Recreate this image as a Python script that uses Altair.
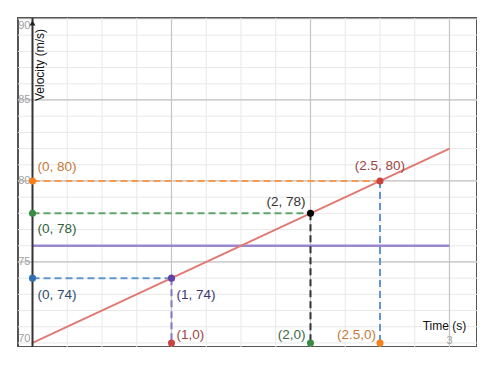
import altair as alt
import pandas as pd

# ---- data ----
line_t = [0, 3]
line_v = [70, 82]
level_v = 76
level_t = [0, 3]

# dashed horizontal guides (from t=0 to the point)
h_end_t = [2.5, 2, 1]
h_v = [80, 78, 74]
h_col = ["#f59a52", "#5fa46b", "#6396cf"]

# dashed vertical guides (from the point down to 70)
v_t = [1, 2, 2.5]
v_top = [74, 78, 80]
v_col = ["#8874c4", "#333333", "#6396cf"]
v_bottom = 70

pt_t = [0, 0, 0, 1, 2, 2.5, 1, 2, 2.5]
pt_v = [80, 78, 74, 74, 78, 80, 70, 70, 70]
pt_col = ["#fa7e19", "#388c46", "#2d70b3", "#6042a6", "#000000", "#c74440",
          "#c74440", "#388c46", "#fa7e19"]

labels = ["(0, 80)", "(0, 78)", "(0, 74)", "(1, 74)", "(2, 78)", "(2.5, 80)",
          "(1,0)", "(2,0)", "(2.5,0)"]
label_col = ["#c47a3c", "#2f5f3a", "#2f4a70", "#3d3474", "#333333", "#9a4744",
             "#9a4744", "#3a6a44", "#c47a3c"]

minor_x = [i * 0.25 for i in range(-1, 13)]
major_x = [1, 2, 3]
minor_y = list(range(70, 91))
major_y = [75, 80, 85]
y_ticks = [90, 85, 80, 75, 70]
x_tick = [3]

xs = alt.Scale(domain=[-0.1043, 3.198], nice=False, zero=False)
ys = alt.Scale(domain=[69.75, 90.06], nice=False, zero=False)
X = lambda f: alt.X(f, scale=xs, axis=None)
Y = lambda f: alt.Y(f, scale=ys, axis=None)

def vgrid(vals, color, w):
    return alt.Chart(pd.DataFrame({"t": vals})).mark_rule(color=color, strokeWidth=w).encode(x=X("t:Q"))

def hgrid(vals, color, w):
    return alt.Chart(pd.DataFrame({"v": vals})).mark_rule(color=color, strokeWidth=w).encode(y=Y("v:Q"))

layers = [
    vgrid(minor_x, "#e8e8e8", 1), hgrid(minor_y, "#e8e8e8", 1),
    vgrid(major_x, "#c4c4c4", 1.2), hgrid(major_y, "#c4c4c4", 1.2),
]

# tick labels
ytl = pd.DataFrame({"t": [0] * len(y_ticks), "v": y_ticks, "s": [str(v) for v in y_ticks]})
for v, dy in [(90, 7), (85, 0), (80, 0), (75, 0), (70, -4)]:
    layers.append(alt.Chart(ytl[ytl.v == v]).mark_text(
        align="right", baseline="middle", dx=-2, dy=dy, fontSize=11,
        font="Liberation Sans", color="#a0a0a0").encode(x=X("t:Q"), y=Y("v:Q"), text="s:N"))
layers.append(alt.Chart(pd.DataFrame({"t": x_tick, "v": [70], "s": ["3"]})).mark_text(
    align="center", baseline="middle", dy=-2, fontSize=11, font="Liberation Sans",
    color="#a0a0a0").encode(x=X("t:Q"), y=Y("v:Q"), text="s:N"))

# purple level line
layers.append(alt.Chart(pd.DataFrame({"t": level_t, "v": [level_v] * 2})).mark_line(
    color="#9a88cf", strokeWidth=2.5).encode(x=X("t:Q"), y=Y("v:Q")))

# dashed guides
hd = pd.DataFrame({"t": [0] * 3, "t2": h_end_t, "v": h_v, "c": h_col})
layers.append(alt.Chart(hd).mark_rule(strokeWidth=2, strokeDash=[7, 4]).encode(
    x=X("t:Q"), x2="t2:Q", y=Y("v:Q"), color=alt.Color("c:N", scale=None)))
vd = pd.DataFrame({"t": v_t, "v": v_top, "v2": [v_bottom] * 3, "c": v_col})
layers.append(alt.Chart(vd).mark_rule(strokeWidth=2, strokeDash=[7, 4]).encode(
    x=X("t:Q"), y=Y("v:Q"), y2="v2:Q", color=alt.Color("c:N", scale=None)))

# red velocity line
layers.append(alt.Chart(pd.DataFrame({"t": line_t, "v": line_v})).mark_line(
    color="#e07a73", strokeWidth=2).encode(x=X("t:Q"), y=Y("v:Q")))

# y axis with arrow
layers.append(alt.Chart(pd.DataFrame({"t": [0], "v": [69.75], "v2": [90.06]})).mark_rule(
    color="#333333", strokeWidth=2).encode(x=X("t:Q"), y=Y("v:Q"), y2="v2:Q"))
layers.append(alt.Chart(pd.DataFrame({"t": [0], "v": [89.75]})).mark_point(
    shape="triangle-up", size=35, filled=True, color="#222222", opacity=1).encode(x=X("t:Q"), y=Y("v:Q")))

# axis titles
layers.append(alt.Chart(pd.DataFrame({"t": [0], "v": [90.06], "s": ["Velocity (m/s)"]})).mark_text(
    angle=270, align="right", baseline="middle", dx=-11, dy=7.5, fontSize=12,
    font="Liberation Sans", color="#111111").encode(x=X("t:Q"), y=Y("v:Q"), text="s:N"))
layers.append(alt.Chart(pd.DataFrame({"t": [3], "v": [70], "s": ["Time (s)"]})).mark_text(
    align="center", baseline="middle", dx=-5, dy=-17, fontSize=12,
    font="Liberation Sans", color="#111111").encode(x=X("t:Q"), y=Y("v:Q"), text="s:N"))

# points
pdf = pd.DataFrame({"t": pt_t, "v": pt_v, "c": pt_col})
layers.append(alt.Chart(pdf).mark_circle(size=50, opacity=1).encode(
    x=X("t:Q"), y=Y("v:Q"), color=alt.Color("c:N", scale=None)))

# point labels
offs = [("left", 5, -14), ("left", 5, 16), ("left", 5, 17), ("left", 5, 17),
        ("right", -5, -11), ("center", 0, -15), ("left", 5, -8), ("right", -5, -8),
        ("right", -4, -8)]
for i, (al, dx, dy) in enumerate(offs):
    d = pd.DataFrame({"t": [pt_t[i]], "v": [pt_v[i]], "s": [labels[i]]})
    layers.append(alt.Chart(d).mark_text(
        align=al, baseline="middle", dx=dx, dy=dy, fontSize=13.5,
        font="Liberation Sans", color=label_col[i]).encode(x=X("t:Q"), y=Y("v:Q"), text="s:N"))

chart = alt.layer(*layers).properties(
    width=459, height=329,
    autosize=alt.AutoSizeParams(type="none"),
    padding={"left": 18, "top": 18, "right": 0, "bottom": 0},
    background="white",
).configure_view(stroke="#555555", strokeWidth=2)

chart.save("out.html", embed_options={"renderer": "svg", "actions": False})
